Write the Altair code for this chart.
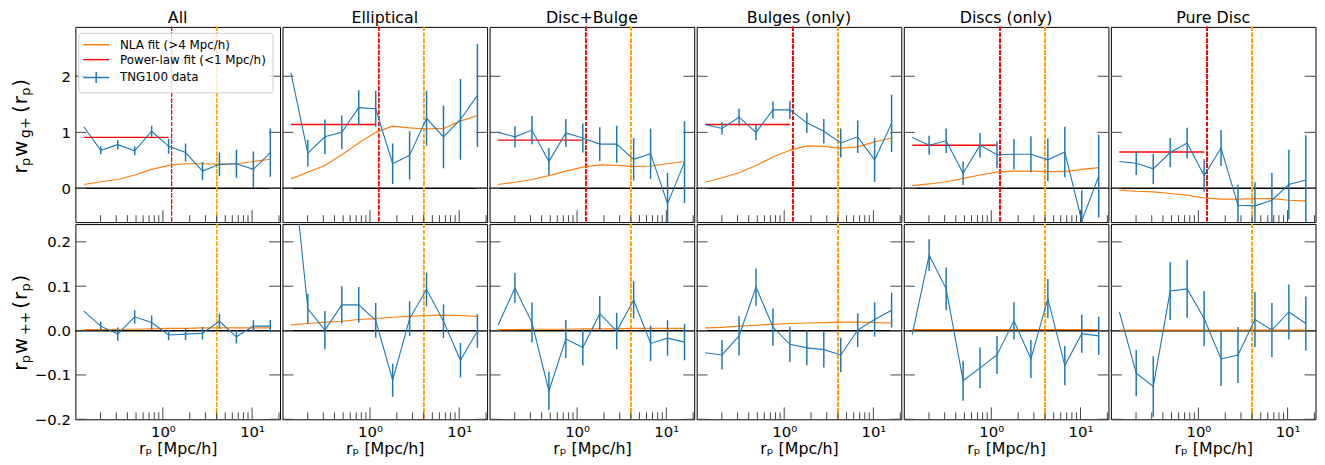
import altair as alt
import pandas as pd

PANELS = ["All", "Elliptical", "Disc+Bulge", "Bulges (only)", "Discs (only)", "Pure Disc"]
RP = [0.130, 0.201, 0.312, 0.483, 0.748, 1.159, 1.795, 2.780, 4.305, 6.668, 10.33, 16.0]

# top row: r_p w_g+
WGP = [
    [1.10, 0.68, 0.78, 0.67, 1.02, 0.75, 0.64, 0.31, 0.43, 0.44, 0.34, 0.64],
    [2.06, 0.63, 0.92, 1.00, 1.44, 1.42, 0.44, 0.59, 1.25, 0.92, 1.23, 1.66],
    [1.00, 0.92, 1.04, 0.48, 0.99, 0.90, 0.79, 0.79, 0.52, 0.62, -0.27, 0.47],
    [1.14, 1.07, 1.27, 1.00, 1.40, 1.40, 1.17, 1.02, 0.81, 0.92, 0.51, 1.16],
    [0.91, 0.77, 0.85, 0.27, 0.77, 0.60, 0.61, 0.61, 0.51, 0.65, -0.58, 0.22],
    [0.48, 0.45, 0.35, 0.64, 0.81, 0.23, 0.72, -0.30, -0.31, -0.21, 0.07, 0.15],
]
WGP_ERR = [
    [None, 0.07, 0.08, 0.08, 0.10, 0.13, 0.16, 0.16, 0.21, 0.25, 0.32, 0.43],
    [None, 0.24, 0.31, 0.30, 0.31, 0.32, 0.36, 0.43, 0.49, 0.56, 0.72, 0.92],
    [None, 0.19, 0.25, 0.24, 0.25, 0.26, 0.30, 0.33, 0.38, 0.45, 0.55, 0.73],
    [None, 0.11, 0.15, 0.14, 0.15, 0.16, 0.18, 0.22, 0.26, 0.29, 0.39, 0.51],
    [None, 0.17, 0.22, 0.21, 0.22, 0.24, 0.27, 0.32, 0.38, 0.45, 0.55, 0.74],
    [None, 0.21, 0.27, 0.26, 0.27, 0.29, 0.32, 0.37, 0.42, 0.49, 0.62, 0.80],
]
WGP_NLA = [
    [0.07, 0.12, 0.16, 0.24, 0.34, 0.41, 0.44, 0.44, 0.43, 0.44, 0.48, 0.52],
    [0.17, 0.29, 0.41, 0.60, 0.81, 1.00, 1.11, 1.08, 1.06, 1.07, 1.20, 1.30],
    [0.07, 0.11, 0.16, 0.23, 0.31, 0.38, 0.42, 0.41, 0.39, 0.40, 0.44, 0.48],
    [0.11, 0.19, 0.28, 0.41, 0.56, 0.68, 0.76, 0.75, 0.72, 0.74, 0.83, 0.90],
    [0.05, 0.08, 0.12, 0.18, 0.24, 0.29, 0.31, 0.31, 0.30, 0.30, 0.34, 0.37],
    [-0.03, -0.05, -0.06, -0.09, -0.12, -0.17, -0.19, -0.19, -0.18, -0.18, -0.21, -0.22],
]
PL_AMP = [0.91, 1.14, 0.86, 1.14, 0.77, 0.65]
PL_RANGE = [0.130, 1.159]

# bottom row: r_p w_++
WPP = [
    [0.044, 0.010, -0.008, 0.031, 0.018, -0.010, -0.008, -0.006, 0.021, -0.014, 0.010, 0.010],
    [0.42, 0.049, 0.001, 0.058, 0.058, 0.023, -0.112, 0.027, 0.093, 0.021, -0.067, -0.001],
    [0.012, 0.096, 0.018, -0.136, -0.019, -0.038, 0.038, -0.001, 0.069, -0.029, -0.017, -0.026],
    [-0.050, -0.055, -0.012, 0.098, 0.008, -0.031, -0.039, -0.043, -0.055, 0.001, 0.025, 0.046],
    [-0.009, 0.170, 0.094, -0.113, -0.084, -0.055, 0.022, -0.064, 0.072, -0.079, -0.007, -0.012],
    [0.042, -0.096, -0.126, 0.089, 0.094, 0.027, -0.064, -0.055, 0.025, 0.001, 0.042, 0.016],
]
WPP_ERR = [
    [None, 0.010, 0.015, 0.015, 0.016, 0.012, 0.013, 0.014, 0.017, 0.015, 0.013, 0.014],
    [None, 0.034, 0.043, 0.042, 0.040, 0.039, 0.037, 0.039, 0.038, 0.038, 0.039, 0.038],
    [None, 0.034, 0.045, 0.043, 0.043, 0.041, 0.040, 0.041, 0.042, 0.040, 0.040, 0.041],
    [None, 0.033, 0.044, 0.042, 0.042, 0.040, 0.039, 0.040, 0.039, 0.038, 0.039, 0.039],
    [None, 0.036, 0.048, 0.045, 0.046, 0.043, 0.042, 0.043, 0.044, 0.044, 0.043, 0.043],
    [None, 0.052, 0.068, 0.065, 0.065, 0.062, 0.061, 0.063, 0.062, 0.061, 0.062, 0.061],
]
WPP_NLA = [
    [0.002, 0.002, 0.003, 0.003, 0.004, 0.005, 0.005, 0.006, 0.006, 0.006, 0.006, 0.006],
    [0.013, 0.016, 0.019, 0.021, 0.025, 0.027, 0.030, 0.032, 0.034, 0.035, 0.034, 0.032],
    [0.002, 0.002, 0.003, 0.003, 0.003, 0.004, 0.004, 0.004, 0.005, 0.005, 0.005, 0.005],
    [0.006, 0.007, 0.010, 0.012, 0.014, 0.016, 0.017, 0.018, 0.019, 0.019, 0.018, 0.017],
    [0.002, 0.002, 0.002, 0.002, 0.002, 0.002, 0.002, 0.002, 0.002, 0.002, 0.002, 0.002],
    [0.001, 0.001, 0.001, 0.001, 0.001, 0.001, 0.001, 0.001, 0.001, 0.001, 0.001, 0.001],
]

VLINE_PL = 1.25
VLINE_NLA = 4.0
XTICK_MAJOR = [1, 10]
XTICK_MINOR = [0.2, 0.3, 0.4, 0.5, 0.6, 0.7, 0.8, 0.9, 2, 3, 4, 5, 6, 7, 8, 9, 20]
YTICK_TOP = [0, 1, 2]
YTICK_BOT = [-0.2, -0.1, 0.0, 0.1, 0.2]
LEGEND_NAMES = ["NLA fit (>4 Mpc/h)", "Power-law fit (<1 Mpc/h)", "TNG100 data"]
# y titles r_p w_{g+}(r_p) and r_p w_{++}(r_p): text pieces, subscript flags
YTITLE_TOP = ["r", "p", "w", "g+", "(", "r", "p", ")"]
YTITLE_BOT = ["r", "p", "w", "++", "(", "r", "p", ")"]
YTITLE_SUB = [False, True, False, True, False, False, True, False]
XTITLE = "rₚ [Mpc/h]"

C_BLUE = "#1f77b4"
C_ORANGE = "#ff7f0e"
C_RED = "red"
C_VORANGE = "orange"
FONT = "DejaVu Sans"

W, H = 206.5, 197
XSCALE = alt.Scale(type="log", domain=[0.1045, 20.55], nice=False)

cscale = alt.Scale(domain=LEGEND_NAMES, range=[C_ORANGE, C_RED, C_BLUE])
legend = alt.Legend(
    title=None, orient="none", legendX=3, legendY=6,
    symbolSize=100, symbolStrokeWidth=1.5,
    symbolType={"expr": "datum.value === 'TNG100 data' ? 'M-1.4,0H3.8M1.2,-1.1V1.1' : 'M-1.4,0H3.8'"},
    labelFontSize=12, labelFont=FONT, labelColor="black", labelOffset=24, labelLimit=300,
    padding=6, rowPadding=3, fillColor="rgba(255,255,255,0.8)", strokeColor="#cccccc",
    cornerRadius=3,
)


def col_or_mark(use_legend, key, color):
    if use_legend:
        return {"color": alt.Color(key + ":N", scale=cscale, legend=legend)}, {}
    return {}, {"color": color}


def panel(row, col):
    top = row == 0
    vals = WGP[col] if top else WPP[col]
    errs = WGP_ERR[col] if top else WPP_ERR[col]
    nla = WGP_NLA[col] if top else WPP_NLA[col]
    df = pd.DataFrame({"rp": RP, "v": vals, "err": errs, "nla": nla})
    df["err"] = df["err"].astype(float)
    df["lo"] = df["v"] - df["err"]
    df["hi"] = df["v"] + df["err"]
    df["k_nla"] = LEGEND_NAMES[0]
    df["k_data"] = LEGEND_NAMES[2]
    ysc = alt.Scale(domain=[-0.6, 2.88] if top else [-0.2, 0.24], nice=False, zero=False)
    yticks = YTICK_TOP if top else YTICK_BOT
    use_leg = top and col == 0

    if top:
        xaxis = None
    else:
        xaxis = alt.Axis(values=XTICK_MAJOR, labelExpr="datum.value == 1 ? '10⁰' : '10¹'",
                         ticks=False, tickSize=0, domain=False, grid=False,
                         labelFontSize=15, labelPadding=5, labelFont=FONT, labelColor="black",
                         title=XTITLE, titleFontSize=16, titleFont=FONT, titleFontWeight="normal",
                         titlePadding=2, titleColor="black")
    if col == 0:
        yaxis = alt.Axis(values=yticks, format="d" if top else ".1f", ticks=False, tickSize=0,
                         domain=False, grid=False, labelFontSize=15, labelFont=FONT,
                         labelColor="black", labelPadding=5, title=None)
    else:
        yaxis = None

    def X(f):
        return alt.X(f, scale=XSCALE, axis=xaxis)

    def Y(f):
        return alt.Y(f, scale=ysc, axis=yaxis)

    layers = []
    layers.append(alt.Chart(df).mark_rule(color="black", strokeWidth=0.9).encode(
        y=alt.YDatum(0, scale=ysc, axis=yaxis)))
    if top:
        layers.append(alt.Chart(df).mark_rule(color=C_RED, strokeWidth=0.9, strokeDash=[4, 2]).encode(
            x=alt.XDatum(VLINE_PL, scale=XSCALE, axis=xaxis)))
    layers.append(alt.Chart(df).mark_rule(color=C_VORANGE, strokeWidth=0.9, strokeDash=[4, 2]).encode(
        x=alt.XDatum(VLINE_NLA, scale=XSCALE, axis=xaxis)))
    tmin = pd.DataFrame({"t": XTICK_MINOR})
    tmaj = pd.DataFrame({"t": XTICK_MAJOR})
    ty = pd.DataFrame({"t": yticks})
    layers.append(alt.Chart(tmin).mark_rule(color="#444444", strokeWidth=1).encode(
        x=X("t:Q"), y=alt.value(H), y2=alt.value(H - 7)))
    layers.append(alt.Chart(tmaj).mark_rule(color="#444444", strokeWidth=1).encode(
        x=X("t:Q"), y=alt.value(H), y2=alt.value(H - 12)))
    layers.append(alt.Chart(ty).mark_rule(color="#444444", strokeWidth=1).encode(
        y=Y("t:Q"), x=alt.value(0), x2=alt.value(11)))
    layers.append(alt.Chart(ty).mark_rule(color="#444444", strokeWidth=1).encode(
        y=Y("t:Q"), x=alt.value(W - 11), x2=alt.value(W)))

    enc, mk = col_or_mark(use_leg, "k_nla", C_ORANGE)
    layers.append(alt.Chart(df).mark_line(strokeWidth=1.2, clip=True, **mk).encode(
        x=X("rp:Q"), y=Y("nla:Q"), **enc))
    if top:
        pl = pd.DataFrame({"rp": PL_RANGE, "v": [PL_AMP[col]] * 2, "k_pl": [LEGEND_NAMES[1]] * 2})
        enc, mk = col_or_mark(use_leg, "k_pl", C_RED)
        layers.append(alt.Chart(pl).mark_line(strokeWidth=1.3, clip=True, **mk).encode(
            x=X("rp:Q"), y=Y("v:Q"), **enc))
    enc, mk = col_or_mark(use_leg, "k_data", C_BLUE)
    layers.append(alt.Chart(df).mark_line(strokeWidth=1.1, clip=True, **mk).encode(
        x=X("rp:Q"), y=Y("v:Q"), **enc))
    layers.append(alt.Chart(df).mark_rule(strokeWidth=1.5, clip=True, **mk).encode(
        x=X("rp:Q"), y=Y("lo:Q"), y2="hi:Q", **enc))

    if col == 0:
        pieces = YTITLE_TOP if top else YTITLE_BOT
        ys = ([148, 140.5, 131, 112, 87, 78, 69.5, 60.5] if top
              else [148, 140.5, 131, 112, 85.5, 76.5, 68, 59])
        sub_sizes = [13, 14, 13]
        k = 0
        for p, yy, sub in zip(pieces, ys, YTITLE_SUB):
            if sub:
                fs = sub_sizes[k]
                k += 1
            else:
                fs = 20
            tdf = pd.DataFrame({"s": [p]})
            layers.append(alt.Chart(tdf).mark_text(
                angle=270, align="left", baseline="alphabetic",
                fontSize=fs, font=FONT, color="black").encode(
                x=alt.value(-46 if sub else -49), y=alt.value(yy), text="s:N"))

    ch = alt.layer(*layers).properties(width=W, height=H)
    if top:
        ch = ch.properties(title=alt.TitleParams(PANELS[col], fontSize=16, fontWeight="normal",
                                                 font=FONT, color="black", offset=0, anchor="middle"))
    return ch


top_row = alt.hconcat(*[panel(0, c) for c in range(6)], spacing=0).resolve_scale(color="independent")
bot_row = alt.hconcat(*[panel(1, c) for c in range(6)], spacing=0).resolve_scale(color="independent")

chart = (
    alt.vconcat(top_row, bot_row, spacing=0)
    .resolve_scale(color="independent")
    .properties(padding={"left": 2, "top": 0, "right": 0, "bottom": 0})
    .configure(font=FONT, background="white")
    .configure_view(stroke="black", strokeWidth=1)
)

chart.save("out.html", embed_options={"renderer": "svg", "actions": False})
